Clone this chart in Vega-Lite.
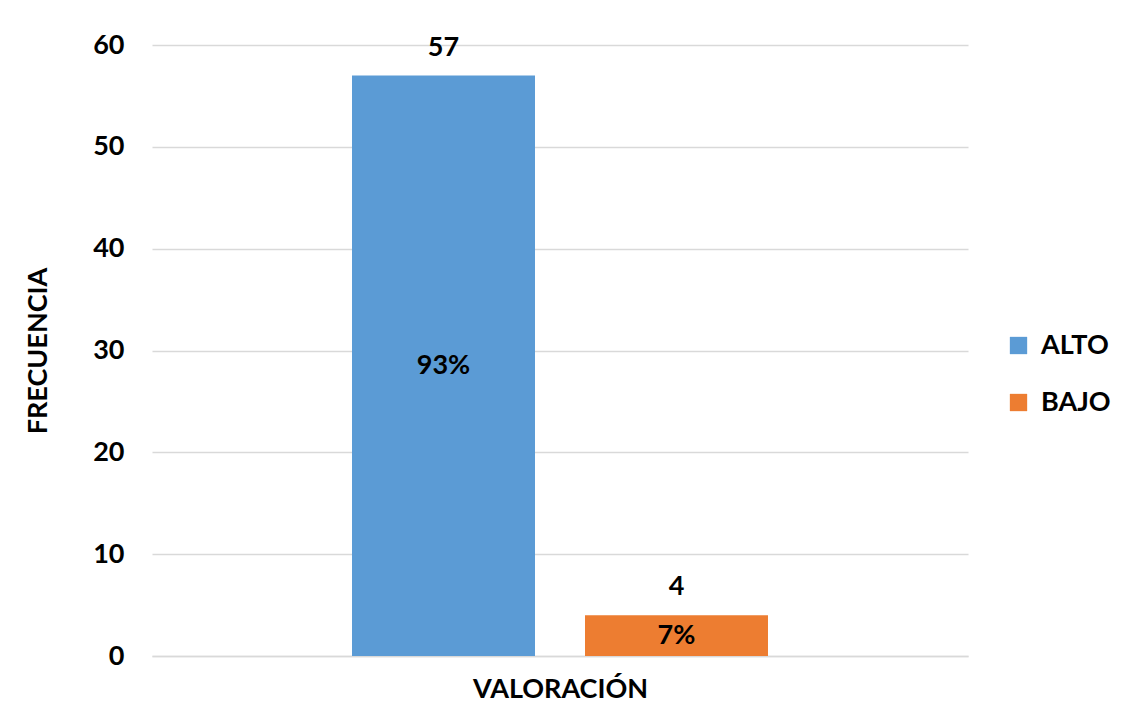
{
  "$schema": "https://vega.github.io/schema/vega-lite/v6.json",
  "width": 816,
  "height": 611,
  "autosize": {"type": "none"},
  "padding": {"left": 152, "top": 45, "right": 154, "bottom": 70},
  "background": "white",
  "config": {
    "view": {"stroke": null},
    "font": "Lato",
    "axis": {"labelFont": "Lato", "titleFont": "Lato"}
  },
  "data": {
    "values": [
      {"valoracion": "VALORACIÓN", "nivel": "ALTO", "frecuencia": 57, "porcentaje": "93%"},
      {"valoracion": "VALORACIÓN", "nivel": "BAJO", "frecuencia": 4, "porcentaje": "7%"}
    ]
  },
  "transform": [{"calculate": "datum.frecuencia / 2", "as": "mitad"}],
  "encoding": {
    "x": {
      "field": "valoracion",
      "type": "nominal",
      "scale": {"paddingInner": 0, "paddingOuter": 0.4808},
      "axis": {
        "title": "VALORACIÓN",
        "labels": false,
        "ticks": false,
        "domainColor": "#D9D9D9",
        "domainWidth": 1.5,
        "titleFontSize": 27,
        "titleFontWeight": "bold",
        "titleColor": "black",
        "titlePadding": 20
      }
    },
    "xOffset": {
      "field": "nivel",
      "type": "nominal",
      "scale": {"paddingInner": 0.2146, "paddingOuter": 0}
    }
  },
  "layer": [
    {
      "mark": {"type": "bar"},
      "encoding": {
        "y": {
          "field": "frecuencia",
          "type": "quantitative",
          "scale": {"domain": [0, 60]},
          "axis": {
            "title": "FRECUENCIA",
            "values": [0, 10, 20, 30, 40, 50, 60],
            "grid": true,
            "gridColor": "#D9D9D9",
            "gridWidth": 1.5,
            "domain": false,
            "ticks": false,
            "labelFontSize": 27,
            "labelFontWeight": "bold",
            "labelColor": "black",
            "labelPadding": 28,
            "titleFontSize": 27,
            "titleFontWeight": "bold",
            "titleColor": "black",
            "titlePadding": 40
          }
        },
        "color": {
          "field": "nivel",
          "type": "nominal",
          "scale": {"domain": ["ALTO", "BAJO"], "range": ["#5B9BD5", "#ED7D31"]},
          "legend": {
            "title": null,
            "orient": "none",
            "legendX": 853,
            "legendY": 287,
            "symbolType": "square",
            "symbolSize": 300,
            "symbolStrokeWidth": 0,
            "symbolOpacity": 1,
            "labelFontSize": 27,
            "labelFontWeight": "bold",
            "labelColor": "black",
            "labelFont": "Lato",
            "rowPadding": 29,
            "labelOffset": 9
          }
        }
      }
    },
    {
      "mark": {"type": "text", "fontSize": 27, "fontWeight": "bold", "color": "black", "baseline": "bottom", "dy": -14},
      "encoding": {
        "y": {"field": "frecuencia", "type": "quantitative"},
        "text": {"field": "frecuencia"}
      }
    },
    {
      "mark": {"type": "text", "fontSize": 27, "fontWeight": "bold", "color": "black", "baseline": "middle"},
      "encoding": {
        "y": {"field": "mitad", "type": "quantitative"},
        "text": {"field": "porcentaje"}
      }
    }
  ]
}
